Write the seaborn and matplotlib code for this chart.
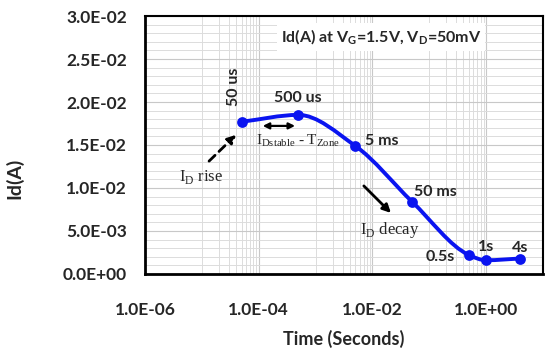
import numpy as np
import pandas as pd
import matplotlib
matplotlib.use("Agg")
import matplotlib.pyplot as plt
from matplotlib.path import Path
from matplotlib.patches import PathPatch
from matplotlib.ticker import FixedLocator, NullFormatter
import seaborn as sns

# dados
time_s = [5e-5, 5e-4, 5e-3, 5e-2, 0.5, 1.0, 4.0]
id_a = [0.0177, 0.0185, 0.0149, 0.0084, 0.0022, 0.0016, 0.0018]
point_labels = ["50 us", "500 us", "5 ms", "50 ms", "0.5s", "1s", "4s"]
x_ticks = [1e-6, 1e-4, 1e-2, 1e0]
y_ticks = [0.0, 0.005, 0.010, 0.015, 0.020, 0.025, 0.030]

df = pd.DataFrame({"t": time_s, "id": id_a, "label": point_labels})

sns.set_style("white")
plt.rcParams["font.family"] = ["Lato", "DejaVu Sans"]
plt.rcParams["mathtext.fontset"] = "custom"
plt.rcParams["mathtext.rm"] = "Lato"
plt.rcParams["mathtext.bf"] = "Lato:bold"
plt.rcParams["mathtext.sf"] = "Liberation Serif"

BLUE = "#0a14f0"

fig = plt.figure(figsize=(5.5, 3.55), dpi=100)
ax = fig.add_axes([0.2636, 0.2282, 0.7236, 0.7267])


def smooth_path(xs, ys):
    """curva suavizada tipo Excel (hermite monotona em log-x)"""
    u = np.log10(np.asarray(xs, dtype=float))
    v = np.asarray(ys, dtype=float)
    h = np.diff(u)
    d = np.diff(v) / h
    m = np.zeros_like(v)
    m[0], m[-1] = d[0], d[-1]
    for i in range(1, len(v) - 1):
        if d[i - 1] * d[i] > 0:
            m[i] = 2.0 / (1.0 / d[i - 1] + 1.0 / d[i])
    verts = [(u[0], v[0])]
    codes = [Path.MOVETO]
    for i in range(len(v) - 1):
        verts += [(u[i] + h[i] / 3, v[i] + m[i] * h[i] / 3),
                  (u[i + 1] - h[i] / 3, v[i + 1] - m[i + 1] * h[i] / 3),
                  (u[i + 1], v[i + 1])]
        codes += [Path.CURVE4] * 3
    verts = [(10 ** a, b) for a, b in verts]
    return Path(verts, codes)


ax.set_xscale("log")
ax.set_xlim(1e-6, 1e1)
ax.set_ylim(0, 0.030)

# grade
minor_x = [m * 10.0 ** e for e in (-5, -3, -1) for m in range(1, 10)] + [10.0]
ax.xaxis.set_minor_locator(FixedLocator(minor_x))
ax.xaxis.set_minor_formatter(NullFormatter())
ax.yaxis.set_minor_locator(FixedLocator(np.arange(0.001, 0.030, 0.001)))
ax.grid(which="major", color="#c8c8c8", lw=0.8, zorder=0)
ax.grid(which="minor", color="#dcdcdc", lw=0.7, zorder=0)
ax.tick_params(which="minor", length=0)

ax.set_xticks(x_ticks)
ax.set_xticklabels(["{:.1E}".format(v) for v in x_ticks])
ax.set_yticks(y_ticks)
ax.set_yticklabels(["{:.1E}".format(v) for v in y_ticks])
ax.tick_params(which="major", direction="out", length=5, width=1.5,
               labelsize=12.5, color="black")
for lab in ax.get_xticklabels() + ax.get_yticklabels():
    lab.set_fontweight("bold")
ax.tick_params(axis="x", pad=15)
ax.tick_params(axis="y", pad=8)

for side in ["left", "bottom"]:
    ax.spines[side].set_linewidth(2.0)
for side in ["top", "right"]:
    ax.spines[side].set_linewidth(1.5)
for sp in ax.spines.values():
    sp.set_color("black")

ax.add_patch(PathPatch(smooth_path(time_s, id_a), fill=False, ec=BLUE,
                       lw=2.8, zorder=3, capstyle="round"))
sns.scatterplot(data=df, x="t", y="id", ax=ax, color=BLUE, s=60,
                edgecolor=BLUE, linewidth=0, zorder=4, legend=False)

# rotulos dos pontos (deslocamento em pixels)
offsets = {
    "50 us": (-8, 35, "center", 90),
    "500 us": (-1, 17, "center", 0),
    "5 ms": (10, 5, "left", 0),
    "50 ms": (2, 10, "left", 0),
    "0.5s": (-14, -2, "right", 0),
    "1s": (0, 13, "center", 0),
    "4s": (0, 11, "center", 0),
}
for t, v, lab in zip(time_s, id_a, point_labels):
    dx, dy, ha, rot = offsets[lab]
    ax.annotate(lab, (t, v), xytext=(dx, dy), textcoords="offset pixels",
                ha=ha, va="center", rotation=rot, fontsize=11.5,
                fontweight="bold", zorder=5)

ax.text(0.593, 0.919, r"Id(A) at V$_\mathbf{G}$=1.5V, V$_\mathbf{D}$=50mV",
        transform=ax.transAxes, ha="center", va="center", fontsize=11.5,
        fontweight="bold", zorder=5,
        bbox=dict(facecolor="white", edgecolor="none", pad=3))

serif = "Liberation Serif"
ax.text(0.141, 0.376, r"I$_\mathsf{D}$ rise", transform=ax.transAxes,
        ha="center", va="center", fontsize=12, family=serif, zorder=5)
ax.annotate("", xy=(0.234, 0.547), xytext=(0.156, 0.430),
            xycoords="axes fraction",
            arrowprops=dict(arrowstyle="-|>", lw=2, ls=(0, (3, 2)),
                            color="black", mutation_scale=12), zorder=5)
ax.text(0.279, 0.516, r"I$_\mathsf{Dstable}$ - T$_\mathsf{Zone}$",
        transform=ax.transAxes, ha="left", va="center", fontsize=11,
        family=serif, zorder=5)
ax.annotate("", xy=(0.384, 0.574), xytext=(0.289, 0.574),
            xycoords="axes fraction",
            arrowprops=dict(arrowstyle="<|-|>", lw=1.6, color="black",
                            mutation_scale=9), zorder=5)
ax.text(0.540, 0.171, r"I$_\mathsf{D}$ decay", transform=ax.transAxes,
        ha="left", va="center", fontsize=12, family=serif, zorder=5)
ax.annotate("", xy=(0.623, 0.229), xytext=(0.545, 0.349),
            xycoords="axes fraction",
            arrowprops=dict(arrowstyle="-|>", lw=2, color="black",
                            mutation_scale=12), zorder=5)

ax.set_xlabel("Time (Seconds)", fontsize=13, fontweight="bold", labelpad=9)
ax.set_ylabel("Id(A)", fontsize=14, fontweight="bold")
ax.yaxis.set_label_coords(-0.305, 0.372)

fig.savefig("out.png", dpi=100)
